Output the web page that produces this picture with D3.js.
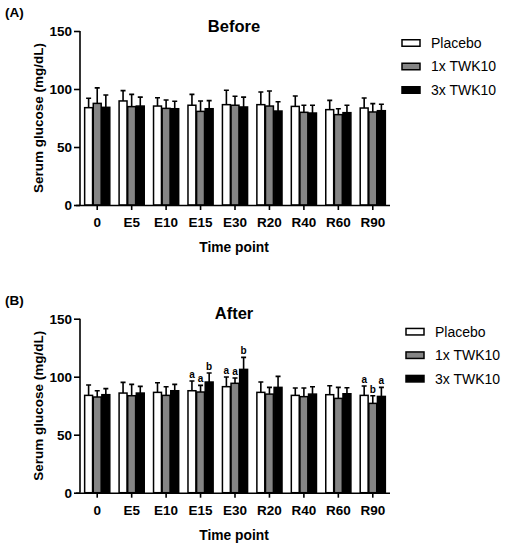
<!DOCTYPE html>
<html>
<head>
<meta charset="utf-8">
<script src="https://cdn.jsdelivr.net/npm/d3@7"></script>
<style>
  body { margin: 0; background: #fff; }
  svg { font-family: "Liberation Sans", Arial, sans-serif; }
</style>
</head>
<body>
<script>
// time points and groups
var timePoints = ["0", "E5", "E10", "E15", "E30", "R20", "R40", "R60", "R90"];
var groups = ["Placebo", "1x TWK10", "3x TWK10"];
var yTicks = [0, 50, 100, 150];

// (A) Before: means and error-bar tops (mean + SD)
var beforePlacebo = [83.9, 89.7, 85.3, 86.0, 86.5, 86.5, 85.0, 82.2, 83.6];
var beforePlaceboErr = [92.0, 98.6, 92.5, 95.4, 98.9, 97.4, 94.0, 90.2, 92.2];
var before1x = [87.6, 84.8, 83.3, 80.7, 86.0, 85.3, 79.9, 77.9, 80.2];
var before1xErr = [101.0, 95.4, 90.5, 89.7, 93.7, 98.3, 86.0, 83.0, 87.4];
var before3x = [84.2, 85.3, 83.0, 83.0, 84.5, 81.0, 79.3, 79.6, 81.3];
var before3xErr = [94.8, 93.0, 89.4, 90.0, 93.0, 89.0, 86.0, 86.0, 86.8];

// (B) After
var afterPlacebo = [83.9, 85.9, 86.5, 87.9, 91.4, 86.5, 83.9, 84.5, 83.9];
var afterPlaceboErr = [92.8, 95.1, 94.8, 96.3, 99.7, 95.4, 90.2, 92.2, 92.0];
var after1x = [82.5, 83.6, 83.9, 86.8, 94.3, 85.0, 82.8, 81.3, 77.0];
var after1xErr = [87.9, 93.4, 91.4, 92.5, 98.9, 90.8, 90.2, 90.8, 83.6];
var after3x = [84.5, 85.9, 87.9, 95.4, 106.3, 90.8, 85.0, 85.3, 83.0];
var after3xErr = [89.7, 91.7, 93.4, 103.2, 116.7, 100.3, 91.4, 90.5, 90.8];
// significance letters (E15, E30, R90)
var afterLettersPlacebo = ["", "", "", "a", "a", "", "", "", "a"];
var afterLetters1x = ["", "", "", "a", "a", "", "", "", "b"];
var afterLetters3x = ["", "", "", "b", "b", "", "", "", "a"];

var fills = ["#ffffff", "#858585", "#000000"];

var svg = d3.select("body").append("svg")
    .attr("width", 506)
    .attr("height", 550);

function drawPanel(opts)
{
    var g = svg.append("g");
    var top = opts.top, bottom = opts.top + 174;
    var x = d3.scaleBand().domain(timePoints).range([80, 390])
        .paddingInner(0.27).paddingOuter(0.135);
    var xg = d3.scaleBand().domain(groups).range([0, x.bandwidth()]).paddingInner(0.08);
    var y = d3.scaleLinear().domain([0, 150]).range([bottom, top]);

    var series = groups.map(function(name, i) {
        return timePoints.map(function(t, j) {
            return { t: t, group: name, i: i, mean: opts.means[i][j], err: opts.errs[i][j],
                     letter: opts.letters ? opts.letters[i][j] : "" };
        });
    });
    var all = d3.merge(series);

    // error bars (drawn first so bar outline sits over the stem base)
    g.selectAll(".err").data(all).enter().append("path")
        .attr("d", function(d) {
            var cx = x(d.t) + xg(d.group) + xg.bandwidth() / 2;
            return "M" + cx + "," + y(d.mean) + "V" + y(d.err) +
                   "M" + (cx - 2.5) + "," + y(d.err) + "H" + (cx + 2.5);
        })
        .attr("stroke", "#000")
        .attr("stroke-width", 1.6)
        .attr("fill", "none");

    g.selectAll(".bar").data(all).enter().append("rect")
        .attr("x", function(d) { return x(d.t) + xg(d.group); })
        .attr("y", function(d) { return y(d.mean); })
        .attr("width", xg.bandwidth())
        .attr("height", function(d) { return y(0) - y(d.mean); })
        .attr("fill", function(d) { return fills[d.i]; })
        .attr("stroke", "#000")
        .attr("stroke-width", 1.5);

    g.selectAll(".letter").data(all.filter(function(d) { return d.letter; })).enter().append("text")
        .attr("x", function(d) { return x(d.t) + xg(d.group) + xg.bandwidth() / 2; })
        .attr("y", function(d) { return y(d.err) - 3; })
        .attr("text-anchor", "middle")
        .attr("font-size", "10px")
        .attr("font-weight", "bold")
        .text(function(d) { return d.letter; });

    // axes
    var yAxis = g.append("g")
        .attr("transform", "translate(80,0)")
        .call(d3.axisLeft(y).tickValues(yTicks).tickSize(6).tickPadding(2));
    var xAxis = g.append("g")
        .attr("transform", "translate(0," + bottom + ")")
        .call(d3.axisBottom(x).tickSize(5).tickPadding(4).tickSizeOuter(0));
    [yAxis, xAxis].forEach(function(a) {
        a.select(".domain").attr("stroke-width", 1.6);
        a.selectAll(".tick line").attr("stroke-width", 1.6);
        a.selectAll("text")
            .attr("font-family", "Liberation Sans, Arial, sans-serif")
            .attr("font-weight", "bold")
            .attr("fill", "#000");
    });
    yAxis.select(".domain").attr("d", "M0," + bottom + "V" + top);
    yAxis.selectAll("text").attr("font-size", "13.5px");
    xAxis.selectAll("text").attr("font-size", "13.5px").attr("dy", "0.95em");
    xAxis.select(".domain").attr("d", "M76,0.5H390");

    // titles and labels
    g.append("text")
        .attr("x", 5).attr("y", top - 14)
        .attr("font-size", "13.5px").attr("font-weight", "bold")
        .text(opts.tag);
    g.append("text")
        .attr("x", 234).attr("y", top + opts.titleDy)
        .attr("text-anchor", "middle")
        .attr("font-size", "16.5px").attr("font-weight", "bold")
        .text(opts.title);
    g.append("text")
        .attr("transform", "translate(43," + (top + 87) + ") rotate(-90)")
        .attr("text-anchor", "middle")
        .attr("font-size", "13.5px").attr("font-weight", "bold")
        .text("Serum glucose (mg/dL)");
    g.append("text")
        .attr("x", 234).attr("y", bottom + 47)
        .attr("text-anchor", "middle")
        .attr("font-size", "13.8px").attr("font-weight", "bold")
        .text("Time point");

    // legend
    var leg = g.selectAll(".leg").data(groups).enter().append("g")
        .attr("transform", function(d, i) {
            return "translate(" + opts.legX + "," + (opts.legY + i * 23.5) + ")";
        });
    leg.append("rect")
        .attr("x", 0).attr("y", -3.25)
        .attr("width", 18).attr("height", 6.5)
        .attr("fill", function(d, i) { return fills[i]; })
        .attr("stroke", "#000").attr("stroke-width", 1.5);
    leg.append("text")
        .attr("x", 29).attr("y", 4.8)
        .attr("font-size", "14px")
        .text(function(d) { return d; });
}

drawPanel({
    top: 31, tag: "(A)", title: "Before", titleDy: 1,
    means: [beforePlacebo, before1x, before3x],
    errs: [beforePlaceboErr, before1xErr, before3xErr],
    legX: 402, legY: 43
});
drawPanel({
    top: 318.7, tag: "(B)", title: "After", titleDy: 0.5,
    means: [afterPlacebo, after1x, after3x],
    errs: [afterPlaceboErr, after1xErr, after3xErr],
    letters: [afterLettersPlacebo, afterLetters1x, afterLetters3x],
    legX: 406, legY: 331.7
});
</script>
</body>
</html>
